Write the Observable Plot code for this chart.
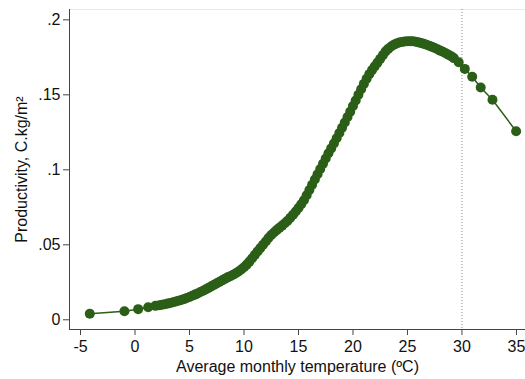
<!DOCTYPE html>
<html>
<head>
<meta charset="utf-8">
<script src="https://cdn.jsdelivr.net/npm/d3@7"></script>
<script src="https://cdn.jsdelivr.net/npm/@observablehq/plot@0.6"></script>
<style>
  html, body { margin: 0; padding: 0; background: #fff; }
</style>
</head>
<body>
<div id="chart"></div>
<script>
// Average monthly temperature (ºC)
const temperature = [
  -4.15, -0.97, 0.29, 1.21, 1.88,
  2.25, 2.5, 2.75, 3.0, 3.25, 3.5, 3.75, 4.0, 4.25, 4.5, 4.75,
  5.0, 5.25, 5.5, 5.75, 6.0, 6.25, 6.5, 6.75, 7.0, 7.25, 7.5, 7.75,
  8.0, 8.25, 8.5, 8.75, 9.0, 9.25, 9.5, 9.75, 10.0, 10.25, 10.5, 10.75,
  11.0, 11.25, 11.5, 11.75, 12.0, 12.25, 12.5, 12.75, 13.0, 13.25, 13.5, 13.75,
  14.0, 14.25, 14.5, 14.75, 15.0, 15.25, 15.5, 15.75, 16.0, 16.25, 16.5, 16.75,
  17.0, 17.25, 17.5, 17.75, 18.0, 18.25, 18.5, 18.75, 19.0, 19.25, 19.5, 19.75,
  20.0, 20.25, 20.5, 20.75, 21.0, 21.25, 21.5, 21.75, 22.0, 22.25, 22.5, 22.75,
  23.0, 23.25, 23.5, 23.75, 24.0, 24.25, 24.5, 24.75, 25.0, 25.25, 25.5, 25.75,
  26.0, 26.25, 26.5, 26.75, 27.0, 27.25, 27.5, 27.75, 28.0, 28.25, 28.5, 28.75,
  29.0, 29.25, 29.7,
  30.26, 30.94, 31.72, 32.8, 34.97
];
// Productivity, C.kg/m²
const productivity = [
  0.0040, 0.0057, 0.0071, 0.0084, 0.0093,
  0.0097, 0.0100, 0.0104, 0.0108, 0.0112, 0.0117, 0.0122, 0.0127, 0.0132, 0.0138, 0.0145,
  0.0152, 0.0160, 0.0168, 0.0176, 0.0185, 0.0194, 0.0203, 0.0213, 0.0223, 0.0233, 0.0243, 0.0253,
  0.0263, 0.0273, 0.0283, 0.0291, 0.0300, 0.0310, 0.0322, 0.0335, 0.0350, 0.0368, 0.0388, 0.0410,
  0.0433, 0.0456, 0.0478, 0.0500, 0.0522, 0.0545, 0.0565, 0.0582, 0.0598, 0.0613, 0.0628, 0.0644,
  0.0660, 0.0680, 0.0700, 0.0722, 0.0745, 0.0770, 0.0797, 0.0830, 0.0865, 0.0900, 0.0935, 0.0970,
  0.1005, 0.1040, 0.1075, 0.1110, 0.1143, 0.1176, 0.1210, 0.1245, 0.1280, 0.1315, 0.1352, 0.1388,
  0.1425, 0.1462, 0.1500, 0.1537, 0.1573, 0.1607, 0.1638, 0.1665, 0.1690, 0.1715, 0.1740, 0.1765,
  0.1790, 0.1808, 0.1822, 0.1834, 0.1843, 0.1849, 0.1853, 0.1856, 0.1857, 0.1858, 0.1857, 0.1854,
  0.1850, 0.1845, 0.1840, 0.1834, 0.1827, 0.1820, 0.1812, 0.1804, 0.1795, 0.1787, 0.1778, 0.1768,
  0.1758, 0.1745, 0.1717,
  0.1673, 0.1620, 0.1549, 0.1467, 0.1257
];
const xTicks = [-5, 0, 5, 10, 15, 20, 25, 30, 35];
const xTickLabels = ["-5", "0", "5", "10", "15", "20", "25", "30", "35"];
const yTicks = [0, 0.05, 0.1, 0.15, 0.2];
const yTickLabels = ["0", ".05", ".1", ".15", ".2"];
const referenceTemp = [30];
const xTitle = "Average monthly temperature (ºC)";
const yTitle = "Productivity, C.kg/m²";

const data = temperature.map((t, i) => ({t, p: productivity[i]}));
const xDomain = [-6.01, 35.83];
const yDomain = [-0.00647, 0.2069];
const green = "#2b5e17";

const chart = Plot.plot({
  width: 525,
  height: 379,
  marginLeft: 69,
  marginRight: 0,
  marginTop: 9,
  marginBottom: 50,
  style: {fontFamily: "'Liberation Sans', Arial, Helvetica, sans-serif", fontSize: "16px", color: "#111", background: "#fff"},
  x: {domain: xDomain},
  y: {domain: yDomain},
  marks: [
    Plot.frame({stroke: "#e3e9ee"}),
    Plot.ruleX(referenceTemp, {stroke: "#8a8a8a", strokeDasharray: "1,2", strokeWidth: 1}),
    Plot.axisX({ticks: xTicks, tickFormat: (d, i) => xTickLabels[i], tickSize: 6, tickPadding: 5, stroke: "#444",
      label: xTitle, labelAnchor: "center", labelArrow: "none", labelOffset: 42}),
    Plot.axisY({ticks: yTicks, tickFormat: (d, i) => yTickLabels[i], tickSize: 6, tickPadding: 3, stroke: "#444",
      label: yTitle, labelAnchor: "center", labelArrow: "none", labelOffset: 54}),
    Plot.ruleX([xDomain[0]], {stroke: "#444", strokeWidth: 1}),
    Plot.ruleY([yDomain[0]], {stroke: "#444", strokeWidth: 1}),
    Plot.line(data, {x: "t", y: "p", stroke: green, strokeWidth: 1.5}),
    Plot.dot(data, {x: "t", y: "p", r: 5, fill: green, stroke: "none"})
  ]
});
document.getElementById("chart").appendChild(chart);
</script>
</body>
</html>
